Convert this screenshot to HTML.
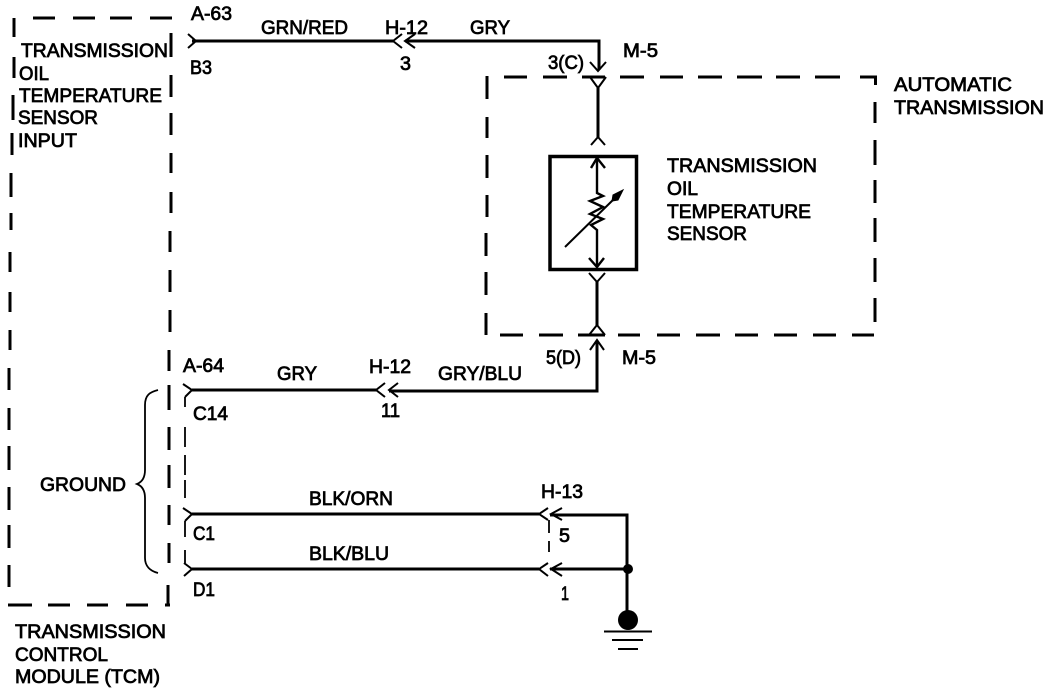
<!DOCTYPE html>
<html>
<head>
<meta charset="utf-8">
<style>
html,body{margin:0;padding:0;background:#fff;}
svg{display:block;}
text{font-family:"Liberation Sans",sans-serif;font-size:19px;fill:#000;stroke:#000;stroke-width:.75px;}
</style>
</head>
<body>
<svg width="1056" height="690" viewBox="0 0 1056 690" xmlns="http://www.w3.org/2000/svg">
<rect width="1056" height="690" fill="#fff"/>

<!-- TCM dashed box -->
<g stroke="#000" stroke-width="3" fill="none">
<path d="M33 18H55M73 18H95M110 18H132M150 18H172"/>
<path d="M14 18V37M14 57V78M13 95V120M12 133V155M11 173V197M11 213V230M10 252V272M10 292V312M10 330V350M9 368V390M9 408V430M9 446V470M9 487V510M9 525V548M9 565V587"/>
<path d="M171 33V57M171 75V97M171 113V135M171 153V173M171 192V213M170 231V252M170 270V292M170 310V332M169 350V371M169 385V410M169 427V450M169 465V488M169 505V525M169 543V563M168 585V606"/>
<path d="M8 605H32M48 605H70M87 605H108M126 605H148M165 605H170"/>
</g>

<!-- Automatic transmission dashed box -->
<g stroke="#000" stroke-width="3" fill="none">
<path d="M504 77H527M543 77H567M582 77H605M620 77H644M660 77H683M698 77H722M737 77H762M776 77H800M815 77H840M860 77H875.500V85"/>
<path d="M500 335H523M539 335H563M578 335H605M618 335H640M657 335H680M696 335H720M735 335H758M774 335H797M813 335H836M852 335H874"/>
<path d="M487 76V99M487 117V138M487 155V178M487 195V217M486 233V256M486 272V295M486 313V335"/>
<path d="M875 102V123M875 140V165M875 180V203M875 218V242M875 258V282M875 298V322"/>
</g>

<!-- Wires -->
<g stroke="#000" stroke-width="3" fill="none">
<path d="M192 41H393"/>
<path d="M405 41H599V70"/>
<path d="M598 88V137"/>
<path d="M597 282V325"/>
<path d="M597 341V391H389"/>
<path d="M192 390H376"/>
<path d="M192 514H539"/>
<path d="M192 569H539"/>
<path d="M550 515H627V615"/>
<path d="M550 569H627"/>
</g>

<!-- Sensor box -->
<rect x="550" y="156.500" width="86.500" height="113" fill="none" stroke="#000" stroke-width="3.500"/>
<g stroke="#000" stroke-width="2.400" fill="none">
<path d="M597 158V193L603 196L590 201L603 207L590 214L603 219L591 225L597 230V267"/>
<path d="M591 168L597 158L605 168"/>
<path d="M589 258L597 267L604 258"/>
</g>
<path d="M565 247L616 197" stroke="#000" stroke-width="2" fill="none"/>
<path d="M623 190L613 195L612 201L618 200Z" fill="#000" stroke="#000" stroke-width="1"/>

<!-- Connector chevrons -->
<g stroke="#000" stroke-width="2" fill="none">
<path d="M188 34L196 41L188 48"/>
<path d="M402 34L393 41L402 48"/>
<path d="M415 34L405 41L415 48"/>
<path d="M590 62L598 71L606 62"/>
<path d="M590 77L598 88L606 77"/>
<path d="M591 145L598 137L605 145"/>
<path d="M589 273L597 282L605 273"/>
<path d="M589 335L597 325L605 335"/>
<path d="M590 350L597 340L604 350"/>
<path d="M385 383L376 390L385 397"/>
<path d="M398 383L389 390L398 397"/>
<path d="M183 384L192 390L185 397"/>
<path d="M183 508L192 514L185 521"/>
<path d="M184 563L192 569L184 576"/>
<path d="M548 508L539 514L548 520"/>
<path d="M562 508L551 514L562 520"/>
<path d="M548 563L539 569L548 576"/>
<path d="M562 563L551 569L562 576"/>
</g>

<!-- Thin ties -->
<g stroke="#000" stroke-width="1.800" fill="none">
<path d="M185 397V407M185 427V447M185 455V475M185 480V498M185 521V537M185 550V563"/>
<path d="M549 520V533M549 541V552"/>
<path d="M158 390C150 392 145 395 145 405V470C145 478 142 482 137 484C142 486 145 490 145 498V558C145 566 150 571 158 573"/>
</g>

<!-- Ground -->
<circle cx="628" cy="569" r="5" fill="#000"/>
<circle cx="628" cy="620" r="10" fill="#000"/>
<g stroke="#000" stroke-width="2" fill="none">
<path d="M604 631.500H652M612 640H643M618 649H638"/>
</g>

<!-- Labels -->
<text x="191" y="20" textLength="41" lengthAdjust="spacingAndGlyphs">A-63</text>
<text x="261" y="34" textLength="87" lengthAdjust="spacingAndGlyphs">GRN/RED</text>
<text x="385" y="34" textLength="43" lengthAdjust="spacingAndGlyphs">H-12</text>
<text x="470" y="34" textLength="40" lengthAdjust="spacingAndGlyphs">GRY</text>
<text x="548" y="69" textLength="36" lengthAdjust="spacingAndGlyphs">3(C)</text>
<text x="623" y="57" textLength="35" lengthAdjust="spacingAndGlyphs">M-5</text>
<text x="190" y="74" textLength="22" lengthAdjust="spacingAndGlyphs">B3</text>
<text x="400" y="70" textLength="11" lengthAdjust="spacingAndGlyphs">3</text>
<text x="894" y="91" textLength="118" lengthAdjust="spacingAndGlyphs">AUTOMATIC</text>
<text x="894" y="114" textLength="150" lengthAdjust="spacingAndGlyphs">TRANSMISSION</text>

<text x="21" y="57" textLength="147" lengthAdjust="spacingAndGlyphs">TRANSMISSION</text>
<text x="19" y="80" textLength="30" lengthAdjust="spacingAndGlyphs">OIL</text>
<text x="19" y="102" textLength="143" lengthAdjust="spacingAndGlyphs">TEMPERATURE</text>
<text x="18" y="124" textLength="80" lengthAdjust="spacingAndGlyphs">SENSOR</text>
<text x="18" y="147" textLength="59" lengthAdjust="spacingAndGlyphs">INPUT</text>

<text x="667" y="172" textLength="150" lengthAdjust="spacingAndGlyphs">TRANSMISSION</text>
<text x="667" y="195" textLength="31" lengthAdjust="spacingAndGlyphs">OIL</text>
<text x="667" y="218" textLength="144" lengthAdjust="spacingAndGlyphs">TEMPERATURE</text>
<text x="667" y="240" textLength="80" lengthAdjust="spacingAndGlyphs">SENSOR</text>

<text x="183" y="372" textLength="41" lengthAdjust="spacingAndGlyphs">A-64</text>
<text x="277" y="380" textLength="40" lengthAdjust="spacingAndGlyphs">GRY</text>
<text x="369" y="373" textLength="42" lengthAdjust="spacingAndGlyphs">H-12</text>
<text x="438" y="380" textLength="84" lengthAdjust="spacingAndGlyphs">GRY/BLU</text>
<text x="546" y="364" textLength="35" lengthAdjust="spacingAndGlyphs">5(D)</text>
<text x="622" y="364" textLength="34" lengthAdjust="spacingAndGlyphs">M-5</text>
<text x="381" y="417" textLength="19" lengthAdjust="spacingAndGlyphs">11</text>
<text x="193" y="420" textLength="35" lengthAdjust="spacingAndGlyphs">C14</text>
<text x="40" y="491" textLength="86" lengthAdjust="spacingAndGlyphs">GROUND</text>
<text x="309" y="505" textLength="84" lengthAdjust="spacingAndGlyphs">BLK/ORN</text>
<text x="541" y="498" textLength="42" lengthAdjust="spacingAndGlyphs">H-13</text>
<text x="193" y="540" textLength="22" lengthAdjust="spacingAndGlyphs">C1</text>
<text x="559" y="542" textLength="11" lengthAdjust="spacingAndGlyphs">5</text>
<text x="309" y="560" textLength="80" lengthAdjust="spacingAndGlyphs">BLK/BLU</text>
<text x="193" y="596" textLength="22" lengthAdjust="spacingAndGlyphs">D1</text>
<text x="561" y="600" textLength="8" lengthAdjust="spacingAndGlyphs">1</text>

<text x="15" y="638" textLength="151" lengthAdjust="spacingAndGlyphs">TRANSMISSION</text>
<text x="15" y="661" textLength="93" lengthAdjust="spacingAndGlyphs">CONTROL</text>
<text x="15" y="683" textLength="145" lengthAdjust="spacingAndGlyphs">MODULE (TCM)</text>
</svg>
</body>
</html>
